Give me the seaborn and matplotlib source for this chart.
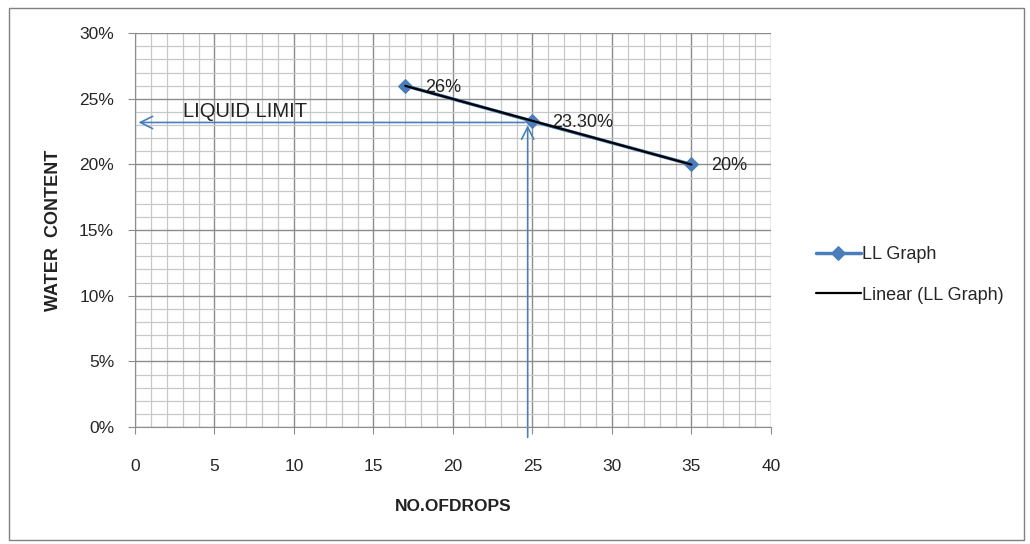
import numpy as np
import pandas as pd
import matplotlib
matplotlib.use("Agg")
import matplotlib.pyplot as plt
import seaborn as sns
from matplotlib.ticker import MultipleLocator, PercentFormatter

# data
drops = [17, 25, 35]
water_content = [26, 23.3, 20]
point_labels = ["26%", "23.30%", "20%"]
liquid_limit_drops = 24.7
liquid_limit_value = 23.2

df = pd.DataFrame({"drops": drops, "water": water_content})

sns.set_style("white")
plt.rcParams["font.family"] = ["Liberation Sans", "DejaVu Sans"]

fig = plt.figure(figsize=(10.3, 5.44), dpi=100)
ax = fig.add_axes([0.131, 0.215, 0.6175, 0.724])

# outer chart border
fig.patches.append(plt.Rectangle((0.009, 0.008), 0.985, 0.978, transform=fig.transFigure,
                                 fill=False, edgecolor="#808080", linewidth=1))

blue = "#4a7ebb"
sns.lineplot(data=df, x="drops", y="water", marker="D", markersize=7.5, color=blue,
             linewidth=2.5, markeredgecolor=blue, ax=ax, label="LL Graph", zorder=3)

# linear trendline
slope, icept = np.polyfit(drops, water_content, 1)
xs = np.array([min(drops), max(drops)])
ax.plot(xs, slope * xs + icept, color="black", linewidth=1.6, label="Linear (LL Graph)", zorder=4)

for x, y, t in zip(drops, water_content, point_labels):
    ax.annotate(t, (x, y), xytext=(14, -1), textcoords="offset points", fontsize=13,
                va="center", ha="left", color="#222222")

# liquid limit arrows
ax.annotate("", xy=(0.05, liquid_limit_value), xytext=(liquid_limit_drops, liquid_limit_value),
            arrowprops=dict(arrowstyle="->", color=blue, lw=1.2, mutation_scale=22), zorder=2)
ax.annotate("", xy=(liquid_limit_drops, liquid_limit_value), xytext=(liquid_limit_drops, -1.0),
            arrowprops=dict(arrowstyle="->", color=blue, lw=1.2, mutation_scale=22),
            annotation_clip=False, zorder=2)
ax.text(3.0, liquid_limit_value + 0.1, "LIQUID LIMIT", fontsize=14.5, va="bottom", ha="left",
        color="#222222")

ax.set_xlim(0, 40)
ax.set_ylim(0, 30)
ax.xaxis.set_major_locator(MultipleLocator(5))
ax.xaxis.set_minor_locator(MultipleLocator(1))
ax.yaxis.set_major_locator(MultipleLocator(5))
ax.yaxis.set_minor_locator(MultipleLocator(1))
ax.yaxis.set_major_formatter(PercentFormatter(decimals=0))

ax.grid(which="major", color="#8c8c8c", linewidth=1)
ax.grid(which="minor", color="#c8c8c8", linewidth=0.9)
ax.set_axisbelow(True)
for s in ["top", "right"]:
    ax.spines[s].set_visible(False)
for s in ["left", "bottom"]:
    ax.spines[s].set_color("#8c8c8c")
ax.tick_params(which="major", direction="out", length=5, color="#8c8c8c", labelsize=12.5,
               left=True, bottom=True, pad=10)
ax.tick_params(axis="x", pad=18)
ax.tick_params(which="minor", length=0)

ax.set_xlabel("NO.OFDROPS", fontsize=12.5, fontweight="bold", labelpad=18, color="#222222")
ax.set_ylabel("WATER  CONTENT", fontsize=13, fontweight="bold", labelpad=12, color="#222222")

ax.legend(loc="center left", bbox_to_anchor=(1.045, 0.386), frameon=False, fontsize=13,
          labelspacing=1.3, handlelength=2.5, handletextpad=0.05)

fig.savefig("out.png", dpi=100)
